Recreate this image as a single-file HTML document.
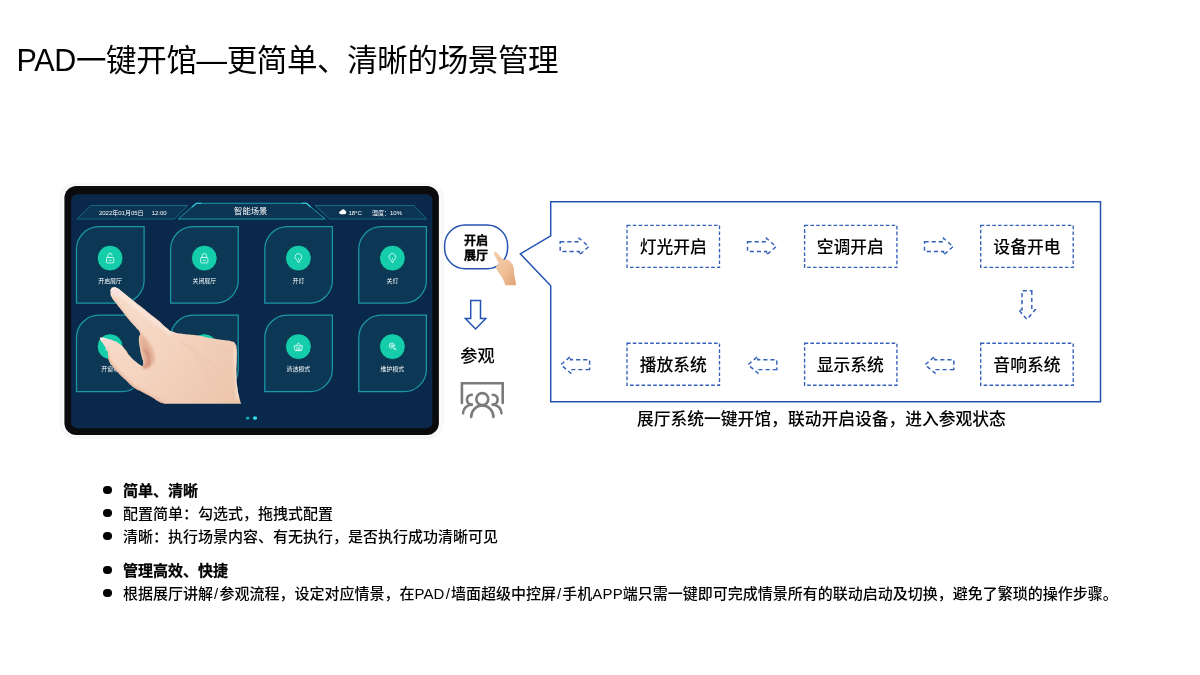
<!DOCTYPE html>
<html lang="zh-CN">
<head>
<meta charset="utf-8">
<title>PAD一键开馆</title>
<style>
*{margin:0;padding:0;box-sizing:border-box}
html,body{width:1200px;height:675px;background:#fff;overflow:hidden}
body{font-family:"Liberation Sans","Noto Sans CJK SC",sans-serif;color:#000;position:relative}
#wrap{position:absolute;left:0;top:0;width:1200px;height:675px;will-change:transform;transform:translateZ(0)}
.abs{position:absolute;white-space:nowrap}
#title{left:16.600px;top:37.100px;font-size:30.500px;line-height:46px;font-weight:400;letter-spacing:-0.360px}
#title span{font-family:"Noto Sans CJK SC",sans-serif}
#gfx{position:absolute;left:0;top:0;width:1200px;height:675px}
#gfx text{font-family:"Liberation Sans","Noto Sans CJK SC",sans-serif;fill:#fff}
.step{position:absolute;width:92.5px;height:42px;font-size:16.8px;line-height:42px;margin-top:1.5px;font-weight:500;text-align:center;white-space:nowrap}
.bul{position:absolute;left:123px;font-size:15px;line-height:22px;white-space:nowrap;font-weight:500;margin-top:0.5px}
.bul i{font-style:normal;padding:0 1.1px}
.bul u{text-decoration:none;letter-spacing:0.15px}
.bul::before{content:"";position:absolute;left:-20px;top:6.400px;width:8.600px;height:8.600px;border-radius:50%;background:#000}
.bul.b{font-weight:700;-webkit-text-stroke:0.250px #000}
</style>
</head>
<body>
<div id="wrap">
<div id="title" class="abs">PAD一键开馆—更简单、清晰的场景管理</div>
<svg id="gfx" viewBox="0 0 1200 675">
  <defs>
    <path id="tile" d="M22.500 0H67.600V54A22.500 22.500 0 0 1 45.100 76.500H0V22.500A22.500 22.500 0 0 1 22.500 0Z"/>
    <path id="ar" d="M0 -4.900H19V-8.300L28.700 0L19 8.300V4.900H0Z"/>
    <linearGradient id="skin2" x1="0" y1="0" x2="1" y2="1">
      <stop offset="0" stop-color="#f4cfae"/>
      <stop offset="0.55" stop-color="#eebf98"/>
      <stop offset="1" stop-color="#e0a273"/>
    </linearGradient>
    <linearGradient id="hg1" gradientUnits="userSpaceOnUse" x1="120" y1="300" x2="240" y2="400">
      <stop offset="0" stop-color="#f7dccb"/>
      <stop offset="0.45" stop-color="#f4d3be"/>
      <stop offset="1" stop-color="#ecc4aa"/>
    </linearGradient>
    <filter id="bl1" x="-20%" y="-20%" width="140%" height="140%"><feGaussianBlur stdDeviation="1.6"/></filter>
    <filter id="bl2" x="-20%" y="-20%" width="140%" height="140%"><feGaussianBlur stdDeviation="0.5"/></filter>
    <filter id="bl3" x="-5%" y="-5%" width="110%" height="110%"><feGaussianBlur stdDeviation="0.8"/></filter>
    <clipPath id="hclip"><path id="hpath" d="M113.3 287.3C115.3 287.0 113.6 286.3 116.9 288.0C120.2 289.7 118.4 288.8 123.1 292.4C127.8 296.0 125.5 294.2 131.1 298.7C136.7 303.2 134.1 301.1 140.0 305.8C145.9 310.5 143.0 308.2 148.9 312.9C154.8 317.6 151.9 315.0 157.8 320.0C163.7 325.0 161.7 324.1 166.7 328.0C171.7 331.9 167.4 329.8 172.9 331.8C178.4 333.8 175.4 332.8 183.3 334.0C191.2 335.2 187.8 334.0 196.7 335.3C205.6 336.6 201.1 336.4 210.0 338.0C218.9 339.6 216.2 338.9 223.3 340.0C230.4 341.1 227.3 340.0 231.3 341.3C235.3 342.6 233.5 341.3 235.3 344.0C237.1 346.7 236.2 344.0 236.7 349.3C237.2 354.6 236.8 352.0 236.7 360.0C236.6 368.0 236.2 364.4 236.4 373.3C236.6 382.2 236.3 378.7 237.3 386.7C238.3 394.7 238.0 391.6 239.3 397.3C240.6 403.0 241.2 403.7 241.2 403.7C241.2 403.7 200.0 403.7 200.0 403.7C200.0 403.7 164.5 403.7 164.5 403.7C164.5 403.7 163.0 403.8 158.7 401.6C154.4 399.4 157.2 400.4 151.6 397.1C146.0 393.8 147.7 395.1 141.8 391.8C135.9 388.5 139.4 391.5 133.8 387.3C128.2 383.1 130.2 384.3 124.9 379.3C119.6 374.3 121.7 376.3 117.8 372.2C113.9 368.1 116.0 370.2 113.3 366.9C110.6 363.6 111.5 366.0 109.8 362.4C108.1 358.8 109.0 360.0 108.2 356.0C107.4 352.0 108.9 354.6 107.3 350.5C105.7 346.4 105.6 347.4 103.3 343.7C101.0 340.0 100.9 341.5 100.3 339.5C99.7 337.5 99.0 337.8 101.5 337.6C104.0 337.4 103.9 338.0 107.8 339.0C111.7 340.0 109.3 339.0 113.1 340.6C116.9 342.2 115.1 340.6 119.3 343.7C123.5 346.8 122.3 346.0 125.6 349.9C128.9 353.8 126.0 351.4 129.3 355.3C132.6 359.2 131.4 358.0 135.6 361.6C139.8 365.2 141.8 366.0 141.8 366.0C141.8 366.0 143.4 366.5 143.3 363.2C143.2 359.9 142.8 361.4 141.6 356.1C140.4 350.8 140.7 353.1 139.8 347.2C138.9 341.3 138.8 342.9 138.9 338.3C139.0 333.7 141.1 337.0 140.0 333.3C138.9 329.6 139.2 331.5 135.6 327.1C132.0 322.7 133.8 325.3 129.3 320.0C124.8 314.7 126.6 316.7 122.2 311.1C117.8 305.5 119.5 307.8 116.0 303.1C112.5 298.4 113.4 300.5 111.6 296.9C109.8 293.3 110.7 295.0 110.5 292.4C110.3 289.8 110.1 290.7 111.0 289.0C111.9 287.3 111.3 287.6 113.3 287.3Z"/></clipPath>
  </defs>

  <!-- tablet body -->
  <rect x="60" y="183.300" width="383.300" height="255" rx="14.500" fill="#e9e9e9" opacity="0.4" filter="url(#bl3)"/>
  <rect x="61.200" y="184.300" width="381" height="253" rx="14" fill="#fcfcfc" stroke="#f0f0f0" stroke-width="0.7"/>
  <rect x="64.400" y="186" width="374.500" height="249" rx="12" fill="#0b0b0d"/>
  <rect x="71.100" y="194.200" width="361.300" height="234" rx="6" fill="#0a2849"/>
  <!-- header bars -->
  <g fill="#0c3453" stroke="#14708a" stroke-width="0.9">
    <path d="M91 205.500H187.500L174.500 219H77Z"/>
    <path d="M315 205.500H414L426.500 219H329.500Z"/>
  </g>
  <path d="M196.300 203.300H306.500L325.300 219H178.200Z" fill="#0c3453" stroke="#1a9aab" stroke-width="1"/>
  <path d="M192 207L196.300 203.300H201.500M301.300 203.300H306.500L310.800 207" fill="none" stroke="#35d3e0" stroke-width="1.100"/>
  <text x="98.900" y="214.600" font-size="6">2022年01月05日</text>
  <text x="151.700" y="214.600" font-size="6">12:00</text>
  <text x="250.700" y="214.300" font-size="8.300" text-anchor="middle">智能场景</text>
  <path d="M340.800 214.300A1.700 1.700 0 0 1 340.800 210.900A2.300 2.300 0 0 1 345 210.600A1.900 1.900 0 0 1 344.700 214.300Z" fill="#fff"/>
  <text x="348.400" y="214.600" font-size="6">18°C</text>
  <text x="372" y="214.600" font-size="6">湿度：10%</text>

  <!-- scene tiles -->
  <g fill="#0c3855" stroke="#1b97a8" stroke-width="1.250">
    <use href="#tile" x="76.5" y="226.6"/>
    <use href="#tile" x="170.6" y="226.6"/>
    <use href="#tile" x="264.8" y="226.6"/>
    <use href="#tile" x="358.8" y="226.6"/>
    <use href="#tile" x="76.5" y="315.2"/>
    <use href="#tile" x="170.6" y="315.2"/>
    <use href="#tile" x="264.8" y="315.2"/>
    <use href="#tile" x="358.8" y="315.2"/>
  </g>
  <g fill="#15ccab" stroke="#082640" stroke-width="0.8">
    <circle cx="110.1" cy="258.1" r="12.900"/>
    <circle cx="204.3" cy="258.1" r="12.900"/>
    <circle cx="298.4" cy="258.1" r="12.900"/>
    <circle cx="392.4" cy="258.1" r="12.900"/>
    <circle cx="110.1" cy="346.6" r="12.900"/>
    <circle cx="204.3" cy="346.6" r="12.900"/>
    <circle cx="298.4" cy="346.6" r="12.900"/>
    <circle cx="392.4" cy="346.6" r="12.900"/>
  </g>
  <g font-size="5.900" text-anchor="middle">
    <text x="110.1" y="282.9">开启展厅</text>
    <text x="204.3" y="282.9">关闭展厅</text>
    <text x="298.4" y="282.9">开灯</text>
    <text x="392.4" y="282.9">关灯</text>
    <text x="110.1" y="371.4">开窗帘</text>
    <text x="204.3" y="371.4">关窗帘</text>
    <text x="298.4" y="371.4">清洁模式</text>
    <text x="392.4" y="371.4">维护模式</text>
  </g>
  <g transform="translate(110.1 258.1)" fill="none" stroke="#e9fffa" stroke-width="0.8" stroke-linecap="round" stroke-linejoin="round"><rect x="-3.600" y="-0.600" width="7.200" height="5.400" rx="0.800"/><path d="M-2 -0.600V-2.600A2 2 0 0 1 2 -3"/><path d="M-1 2.200H1"/></g>
  <g transform="translate(204.3 258.1)" fill="none" stroke="#e9fffa" stroke-width="0.8" stroke-linecap="round" stroke-linejoin="round"><rect x="-3.600" y="-0.600" width="7.200" height="5.400" rx="0.800"/><path d="M-2.100 -0.600V-2.600A2.100 2.100 0 0 1 2.100 -2.600V-0.600"/><path d="M-1 2.200H1"/></g>
  <g transform="translate(298.4 258.1)" fill="none" stroke="#e9fffa" stroke-width="0.8" stroke-linecap="round" stroke-linejoin="round"><path d="M0 4.400L-1.800 1.800A3.400 3.400 0 1 1 1.800 1.800Z"/><path d="M0 0.300V1.300"/></g>
  <g transform="translate(392.4 258.1)" fill="none" stroke="#e9fffa" stroke-width="0.8" stroke-linecap="round" stroke-linejoin="round"><path d="M0 4.400L-1.800 1.800A3.400 3.400 0 1 1 1.800 1.800Z"/><path d="M0 0.300V1.300"/></g>
  <g transform="translate(110.1 346.6)" fill="none" stroke="#e9fffa" stroke-width="0.8" stroke-linecap="round" stroke-linejoin="round"><rect x="-3.600" y="-3.600" width="7.200" height="7.200"/><path d="M0 -3.600V3.600M-3.600 0H3.600"/></g>
  <g transform="translate(204.3 346.6)" fill="none" stroke="#e9fffa" stroke-width="0.8" stroke-linecap="round" stroke-linejoin="round"><rect x="-3.600" y="-3.600" width="7.200" height="7.200"/><path d="M0 -3.600V3.600M-3.600 0H3.600"/></g>
  <g transform="translate(298.4 346.6)" fill="none" stroke="#e9fffa" stroke-width="0.8" stroke-linecap="round" stroke-linejoin="round"><path d="M-4 -0.800H4L3 4H-3Z"/><path d="M-2.400 -0.800L0 -3.800L2.400 -0.800"/><path d="M-1.500 1V4M0 1V4M1.500 1V4"/></g>
  <g transform="translate(392.4 346.6)" fill="none" stroke="#e9fffa" stroke-width="0.8" stroke-linecap="round" stroke-linejoin="round"><circle cx="-0.600" cy="-1" r="2.600"/><path d="M1 0.800L3.600 3.400"/><circle cx="-0.600" cy="-1" r="1"/><path d="M2 2.800L3.200 1.600"/></g>
  <!-- page dots -->
  <rect x="246" y="416.700" width="3.400" height="2.800" rx="1.200" fill="#1aa9b8"/>
  <rect x="253" y="416.500" width="4" height="3.200" rx="1.400" fill="#2fe0f0"/>

  <!-- pointing hand over the tablet -->
  <g id="bighand" filter="url(#bl2)">
    <use href="#hpath" fill="url(#hg1)"/>
    <g clip-path="url(#hclip)">
      <!-- curled finger in the web -->
      <path d="M139.500 333C147 338 153.500 348 154.500 357C155 363.500 151 368 144.500 368.500L141.800 366C143.800 361 143 355.500 141.500 351C139.800 345.500 138.800 339 139.500 333Z" fill="#e3ae95" filter="url(#bl1)"/>
      <path d="M144 349C148 353 150 359 148.500 364.500C147.500 366.500 145 367 143 366.500" fill="none" stroke="#c98672" stroke-width="2.200" filter="url(#bl1)"/>
      <!-- lower edge shade -->
      <path d="M104 345L109 362L118 373L134 388L152 398L166 405" fill="none" stroke="#e6b296" stroke-width="3.500" filter="url(#bl1)"/>
      <path d="M234.500 347L238 400" fill="none" stroke="#fae6da" stroke-width="2.500" filter="url(#bl1)"/>
      <path d="M165 404H242" fill="none" stroke="#efbc98" stroke-width="3" filter="url(#bl1)"/>
      <!-- index finger highlight and shade -->
      <path d="M117 291L150 318L172 334" fill="none" stroke="#fbe9df" stroke-width="3" filter="url(#bl1)"/>
      <path d="M113 298L139 333" fill="none" stroke="#ecc4ae" stroke-width="2.500" filter="url(#bl1)"/>
      <!-- tendon lines -->
      <path d="M180 341L226 374M192 347L216 392M206 345L235 352" fill="none" stroke="#ecc6b0" stroke-width="1.800" filter="url(#bl1)"/>
      <!-- nails -->
      <path d="M111.500 289.500C113 287 116.500 287 119.500 289L124.500 293.500C121.500 296 116.500 297 113.500 295.500C111.500 294 111 291.500 111.500 289.500Z" fill="#f8e0da"/>
      <path d="M100.500 339.200C101.500 337.300 105 337.600 108 338.600L112.500 340.800C111.500 344.500 108.500 347.500 105.500 348C102.500 346 100.200 342.500 100.500 339.200Z" fill="#f6d9d3"/>
      <path d="M111.300 290.800C112.500 287.300 116.500 287 119.500 289.200" fill="none" stroke="#fffaf7" stroke-width="1.100"/>
      <path d="M100.800 341.500C100.300 338.500 103.500 337.400 107.500 338.500" fill="none" stroke="#fffaf7" stroke-width="1.100"/>
    </g>
  </g>

  <!-- bubble -->
  <rect x="444.600" y="225" width="63" height="43.800" rx="20.500" fill="#fff" stroke="#2352b3" stroke-width="1.500"/>
  <!-- small hand -->
  <path d="M494.7 252.0C495.7 251.6 494.9 251.2 497.1 253.0C499.3 254.8 498.8 255.2 501.2 257.5C503.6 259.8 502.2 259.0 504.4 259.8C506.6 260.6 505.5 258.8 507.7 259.8C509.9 260.8 509.1 260.4 511.0 262.8C512.9 265.2 512.3 263.1 513.4 266.9C514.5 270.7 513.5 269.6 514.2 274.2C514.9 278.8 514.9 277.1 515.5 280.8C516.1 284.5 515.9 285.2 515.9 285.2C515.9 285.2 505.3 285.2 505.3 285.2C505.3 285.2 505.5 285.0 504.4 282.4C503.3 279.8 503.9 280.8 502.0 277.5C500.1 274.2 500.6 275.6 498.7 272.6C496.8 269.6 497.1 270.7 496.3 268.5C495.5 266.3 495.6 267.7 496.3 266.1C497.0 264.5 498.5 266.3 498.5 263.8C498.5 261.3 497.8 261.9 496.3 258.7C494.8 255.5 494.6 256.5 494.1 254.3C493.6 252.1 493.7 252.4 494.7 252.0Z" fill="url(#skin2)" filter="url(#bl2)"/>
  <!-- down arrow -->
  <path d="M470.700 300.500H480.500V318.500H485.800L475.600 329L465.400 318.500H470.700Z" fill="#fff" stroke="#2352b3" stroke-width="1.500" stroke-linejoin="miter"/>
  <!-- people icon -->
  <g fill="none" stroke="#7b7b7b" stroke-width="2.600" stroke-linecap="round" stroke-linejoin="miter">
    <path d="M461.900 403V383.300H502.700V403"/>
    <circle cx="482.300" cy="399.100" r="6"/>
    <path d="M471.200 417A11.100 11.600 0 0 1 493.400 417"/>
    <path d="M471.800 394.700A4.900 4.900 0 0 0 471.800 404.500"/>
    <path d="M463.100 413.300A8.700 8.500 0 0 1 471.800 404.800"/>
    <path d="M492.800 394.700A4.900 4.900 0 0 1 492.800 404.500"/>
    <path d="M501.500 413.300A8.700 8.500 0 0 0 492.800 404.800"/>
  </g>
  <!-- flow frame -->
  <path d="M550.700 201.700H1100.500V401.700H550.700V285.800L520.300 253.800L550.700 235.800Z" fill="#fff" stroke="#2352b3" stroke-width="1.500" stroke-linejoin="miter"/>
  <!-- dashed step boxes -->
  <g fill="none" stroke="#3560ba" stroke-width="1.350" stroke-dasharray="3.600 2.200">
    <rect x="627" y="225.300" width="92.500" height="42"/>
    <rect x="804.600" y="225.300" width="92.300" height="42"/>
    <rect x="980.700" y="225.300" width="92.500" height="42"/>
    <rect x="627" y="343.200" width="92.500" height="42"/>
    <rect x="804.600" y="343.200" width="92.300" height="42"/>
    <rect x="980.700" y="343.200" width="92.500" height="42"/>
  </g>
  <!-- dashed arrows -->
  <g fill="none" stroke="#3560ba" stroke-width="1.450" stroke-dasharray="4.200 2.900">
    <use href="#ar" transform="translate(560.200 246.600)"/>
    <use href="#ar" transform="translate(747.500 246.600)"/>
    <use href="#ar" transform="translate(924.500 246.600)"/>
    <use href="#ar" transform="translate(1026.900 290.700) rotate(90)"/>
    <use href="#ar" transform="translate(589.600 364.700) rotate(180)"/>
    <use href="#ar" transform="translate(776.800 364.700) rotate(180)"/>
    <use href="#ar" transform="translate(953.800 364.700) rotate(180)"/>
  </g>
</svg>

<div class="abs" style="left:444.100px;width:64px;top:234.300px;text-align:center;font-size:12px;line-height:14.300px;font-weight:700;-webkit-text-stroke:0.350px #000">开启<br>展厅</div>
<div class="abs" style="left:460.300px;top:343.500px;font-size:17.200px;line-height:24px;font-weight:500">参观</div>

<div class="step" style="left:627px;top:225.300px">灯光开启</div>
<div class="step" style="left:804px;top:225.300px">空调开启</div>
<div class="step" style="left:980.700px;top:225.300px">设备开电</div>
<div class="step" style="left:627px;top:343.200px">播放系统</div>
<div class="step" style="left:804px;top:343.200px">显示系统</div>
<div class="step" style="left:980.700px;top:343.200px">音响系统</div>

<div class="abs" style="left:637px;top:407.500px;font-size:16.780px;line-height:24px;font-weight:500">展厅系统一键开馆，联动开启设备，进入参观状态</div>

<div class="bul b" style="top:479px">简单、清晰</div>
<div class="bul" style="top:502px">配置简单：勾选式，拖拽式配置</div>
<div class="bul" style="top:525px">清晰：执行场景内容、有无执行，是否执行成功清晰可见</div>
<div class="bul b" style="top:559px">管理高效、快捷</div>
<div class="bul" style="top:582px">根据展厅讲解<i>/</i>参观流程，设定对应情景，在<u>PAD</u><i>/</i>墙面超级中控屏<i>/</i>手机<u>APP</u>端只需一键即可完成情景所有的联动启动及切换，避免了繁琐的操作步骤。</div>
</div>
</body>
</html>
